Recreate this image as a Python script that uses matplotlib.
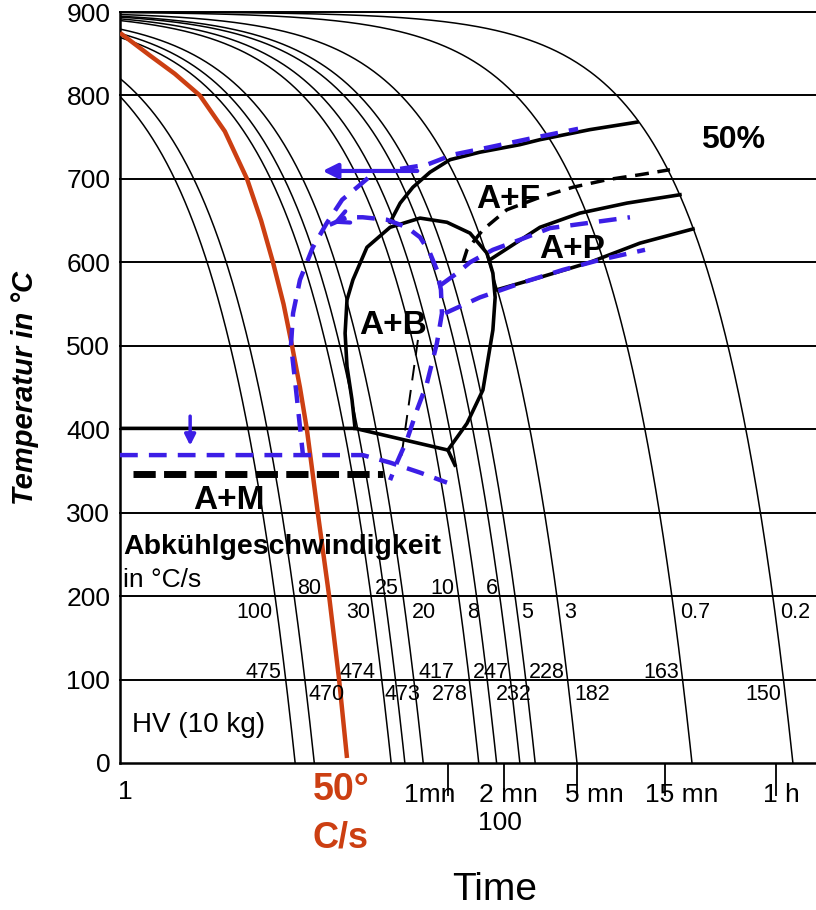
import numpy as np
import matplotlib.pyplot as plt
from matplotlib.ticker import NullLocator

plt.rcParams['font.family'] = ['Liberation Sans', 'DejaVu Sans']

# cooling curves (black): label of cooling rate in degC/s and time (s) where the curve reaches 0 degC
rate_labels = ['100', '80', '30', '25', '20', '10', '8', '6', '5', '3', '0.7', '0.2']
end_times = [8.9, 11.3, 29.5, 35, 44, 88, 110, 147, 178, 300, 1260, 4440]
start_temp = 900
hv_labels = ['475', '470', '474', '473', '417', '278', '247', '232', '228', '182', '163', '150']

# red 50 degC/s curve
red_time = [1.0, 1.45, 1.98, 2.71, 3.70, 4.88, 5.82, 6.75, 7.70, 8.56, 9.45, 10.3, 11.8, 13.6, 15.4, 17.0]
red_temp = [875, 848, 826, 800, 757, 700, 650, 600, 550, 500, 450, 400, 300, 200, 100, 6]

# transformation lines (black)
ferrite_t = [29.1, 33.0, 38.7, 47.9, 61.5, 89.3, 147, 189, 352, 634]
ferrite_T = [648, 671, 690, 708, 723, 732, 741, 747, 759, 768]
bainite_t = [18.8, 18.1, 17.0, 16.6, 17.0, 18.3, 21.8, 29.1, 42.3, 59.2, 78.9, 97.5, 105, 108, 105, 92.7, 76.0, 59.9]
bainite_T = [401, 435, 475, 515, 555, 579, 618, 642, 653, 648, 635, 611, 587, 558, 519, 447, 407, 375]
ms_t = [1, 18.8, 59.9, 65.4]
ms_T = [401, 401, 375, 357]
pearl_start_t = [101, 189, 311, 560, 1084]
pearl_start_T = [603, 642, 659, 671, 681]
pearl_end_t = [110, 189, 352, 658, 1276]
pearl_end_T = [567, 582, 600, 623, 640]
ferrite_dash_t = [72.3, 76.0, 92.7, 125, 189, 285, 436, 658, 957]
ferrite_dash_T = [600, 615, 639, 663, 678, 690, 699, 705, 711]
bainite_dash_t = [41.2, 33.0]
bainite_dash_T = [507, 357]
mart_t = [1.18, 26.6]
mart_T = [346, 346]

# blue overlay
blue_arrow_t = [42.3, 12.1]
blue_arrow_T = [709.5, 709.5]
blue_top_t = [33.0, 46.1, 63.8, 101, 173, 304]
blue_top_T = [712, 717, 729, 738, 749, 760]
blue_outer_t = [22.1, 19.3, 16.0, 13.2, 11.1, 9.45, 8.67, 8.45, 8.88, 9.45, 9.81]
blue_outer_T = [701, 690, 675, 647, 618, 579, 539, 501, 459, 403, 369]
blue_low_t = [1, 20.7, 29.1, 42.3, 59.2]
blue_low_T = [369, 369, 360, 348, 336]
blue_inner_t = [13.7, 17.0, 20.7, 28.0, 35.9, 42.3, 47.9, 52.2, 54.9, 55.6, 52.2, 46.1, 40.7, 35.9, 31.7, 29.1]
blue_inner_T = [645, 654, 654, 651, 642, 630, 611, 591, 567, 539, 503, 455, 423, 387, 360, 339]
blue_pearl1_t = [54.9, 67.1, 78.9, 105, 147, 214, 340, 581]
blue_pearl1_T = [573, 587, 600, 615, 627, 641, 647, 654]
blue_pearl2_t = [57.8, 89.3, 153, 252, 400, 701]
blue_pearl2_T = [539, 558, 576, 591, 603, 615]
blue_small_t = [2.40, 2.40]
blue_small_T = [419, 377]

RED = '#cc3f12'
BLUE = '#3c1ee6'

W, H = 816, 910
fig = plt.figure(figsize=(W / 100, H / 100), dpi=100)
ax = fig.add_axes([120 / W, 1 - 763 / H, 696 / W, 751 / H])
ax.set_xscale('log')
ax.set_xlim(1, 5923)
ax.set_ylim(0, 900)

for s in ['top', 'right']:
    ax.spines[s].set_visible(False)
for s in ['left', 'bottom']:
    ax.spines[s].set_linewidth(1.8)

ax.set_yticks(range(0, 1000, 100))
ax.tick_params(axis='y', length=0, pad=7, labelsize=19)
ax.set_xticks([60, 120, 300, 900, 3600])
ax.set_xticklabels([])
ax.xaxis.set_minor_locator(NullLocator())
ax.tick_params(axis='x', direction='out', length=24, width=1.3)

for y in range(100, 1000, 100):
    ax.axhline(y, color='black', lw=1.4, clip_on=False, zorder=1)

# cooling curves
for te in end_times:
    t = np.geomspace(1, te, 300)
    ax.plot(t, start_temp * (1 - t / te), color='black', lw=1.1, zorder=2)
ax.plot(red_time, red_temp, color=RED, lw=3.2, zorder=4, solid_capstyle='butt', solid_joinstyle='round')

# black transformation lines
kw = dict(color='black', lw=2.6, zorder=3)
ax.plot(ferrite_t, ferrite_T, **kw)
ax.plot(bainite_t, bainite_T, **kw)
ax.plot(ms_t, ms_T, **kw)
ax.plot(pearl_start_t, pearl_start_T, **kw)
ax.plot(pearl_end_t, pearl_end_T, **kw)
ax.plot(ferrite_dash_t, ferrite_dash_T, color='black', lw=2.5, dashes=(4, 2.5), zorder=3)
ax.plot(bainite_dash_t, bainite_dash_T, color='black', lw=1.4, dashes=(8, 5), zorder=3)
ax.plot(mart_t, mart_T, color='black', lw=5, dashes=(3.2, 1.2), zorder=3)

# blue overlay
bkw = dict(color=BLUE, lw=3.2, dashes=(4, 2.5), zorder=5)
for tt, TT in [(blue_top_t, blue_top_T), (blue_outer_t, blue_outer_T), (blue_low_t, blue_low_T),
               (blue_inner_t, blue_inner_T), (blue_pearl1_t, blue_pearl1_T), (blue_pearl2_t, blue_pearl2_T)]:
    ax.plot(tt, TT, **bkw)
ax.annotate('', xy=(blue_arrow_t[1], blue_arrow_T[1]), xytext=(blue_arrow_t[0], blue_arrow_T[0]),
            arrowprops=dict(arrowstyle='-|>', color=BLUE, lw=3, mutation_scale=22), zorder=5)
ax.annotate('', xy=(blue_small_t[1], blue_small_T[1]), xytext=(blue_small_t[0], blue_small_T[0]),
            arrowprops=dict(arrowstyle='-|>', color=BLUE, lw=2.5, mutation_scale=16), zorder=5)
ax.annotate('', xy=(blue_inner_t[0], blue_inner_T[0]), xytext=(blue_inner_t[1], blue_inner_T[1]),
            arrowprops=dict(arrowstyle='->', color=BLUE, lw=3, mutation_scale=22), zorder=5)


def px(x, y):
    return x / W, 1 - y / H


# labels of cooling rates and hardness
rate_pos = [(254, 612), (309, 588), (358, 612), (387, 588), (424, 612), (442, 588),
            (473, 612), (492, 588), (527, 612), (570, 612), (695, 612), (795, 612)]
for lab, (x, y) in zip(rate_labels, rate_pos):
    fig.text(*px(x, y), lab, ha='center', va='center', fontsize=15.5)
hv_pos = [(263, 672), (327, 695), (358, 672), (402, 695), (436, 672), (450, 695),
          (491, 672), (514, 695), (547, 672), (592, 695), (661, 672), (763, 695)]
for lab, (x, y) in zip(hv_labels, hv_pos):
    fig.text(*px(x, y), lab, ha='center', va='center', fontsize=15.5)

fig.text(*px(123, 547), 'Abkühlgeschwindigkeit', ha='left', va='center', fontsize=20.5, fontweight='bold')
fig.text(*px(123, 580), 'in °C/s', ha='left', va='center', fontsize=19)
fig.text(*px(132, 725), 'HV (10 kg)', ha='left', va='center', fontsize=20)

for lab, (x, y) in [('A+M', (229, 500)), ('A+B', (393, 325)), ('A+F', (508, 200)), ('A+P', (572, 250))]:
    fig.text(*px(x, y), lab, ha='center', va='center', fontsize=24, fontweight='bold', zorder=1)
fig.text(*px(733, 140), '50%', ha='center', va='center', fontsize=23, fontweight='bold')

fig.text(*px(25, 388), 'Temperatur in °C', rotation=90, ha='center', va='center',
         fontsize=21, fontweight='bold', fontstyle='italic')

xlabels = [('1', 125, 792), ('1mn', 430, 795), ('2 mn', 508, 795), ('100', 500, 823),
           ('5 mn', 594, 795), ('15 mn', 682, 795), ('1 h', 781, 795)]
for lab, x, y in xlabels:
    fig.text(*px(x, y), lab, ha='center', va='center', fontsize=19)
fig.text(*px(341, 790), '50°', ha='center', va='center', fontsize=27, fontweight='bold', color=RED)
fig.text(*px(340, 838), 'C/s', ha='center', va='center', fontsize=26, fontweight='bold', color=RED)
fig.text(*px(495, 890), 'Time', ha='center', va='center', fontsize=28)

fig.savefig('out.png', dpi=100)
